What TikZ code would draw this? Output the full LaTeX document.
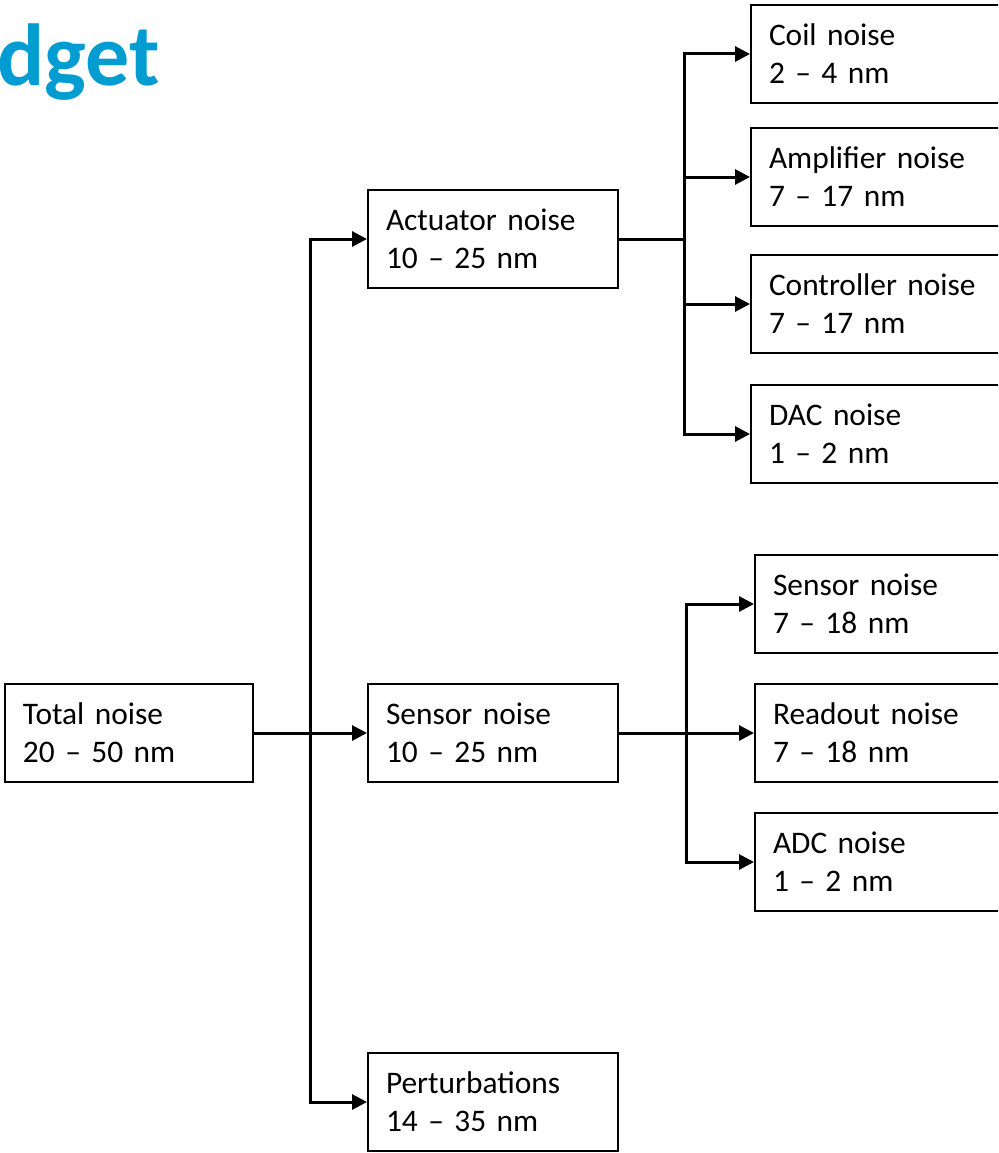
\documentclass[tikz,border=0pt]{standalone}
\usepackage{fontspec}
\usepackage{xcolor}
\usetikzlibrary{arrows.meta,positioning}
\newfontfamily\calib{Carlito}[WordSpace=0.75]
\definecolor{titleblue}{RGB}{0,156,210}

\begin{document}
\begin{tikzpicture}[
  x=1pt, y=-1pt,
  box/.style={draw, line width=2pt, anchor=north west, minimum width=250pt, minimum height=98pt, text width=214pt, inner xsep=18pt, align=left, font=\calib\fontsize{31.4}{38}\selectfont},
  wide/.style={box, minimum width=320pt, text width=284pt},
  link/.style={line width=3pt},
  arr/.style={-{Triangle[length=15pt, width=15pt]}, line width=3pt}
]
\useasboundingbox (0,0) rectangle (998,1153);
\clip (0,0) rectangle (998,1153);

\node[anchor=base east, inner sep=0pt, text=titleblue, font=\calib\bfseries\fontsize{88}{100}\selectfont] (title) at (160,86) {dget};

\node[box, minimum width=248pt, text width=212pt] (total) at (4,683) {Total noise\\20 – 50 nm};
\node[box] (act) at (367,189) {Actuator noise\\10 – 25 nm};
\node[box] (sens) at (367,683) {Sensor noise\\10 – 25 nm};
\node[box] (pert) at (367,1052) {Perturbations\\14 – 35 nm};

\node[wide] (coil) at (750,4) {Coil noise\\2 – 4 nm};
\node[wide] (amp) at (750,127) {Amplifier noise\\7 – 17 nm};
\node[wide] (ctrl) at (750,254) {Controller noise\\7 – 17 nm};
\node[wide] (dac) at (750,384) {DAC noise\\1 – 2 nm};

\node[wide] (snsn) at (754,554) {Sensor noise\\7 – 18 nm};
\node[wide] (rdo) at (754,683) {Readout noise\\7 – 18 nm};
\node[wide] (adc) at (754,812) {ADC noise\\1 – 2 nm};

\coordinate[right=56pt of total.east] (j0);
\coordinate[right=65pt of act.east] (j1);
\coordinate[right=67pt of sens.east] (j2);

\draw[arr] (total.east) -- (sens.west);
\draw[arr] (j0) |- (act.west);
\draw[arr] (j0) |- (pert.west);

\draw[link] (act.east) -- (j1);
\draw[arr] (j1) |- (coil.west);
\draw[arr] (j1) |- (amp.west);
\draw[arr] (j1) |- (ctrl.west);
\draw[arr] (j1) |- (dac.west);

\draw[arr] (sens.east) -- (rdo.west);
\draw[arr] (j2) |- (snsn.west);
\draw[arr] (j2) |- (adc.west);
\end{tikzpicture}
\end{document}
